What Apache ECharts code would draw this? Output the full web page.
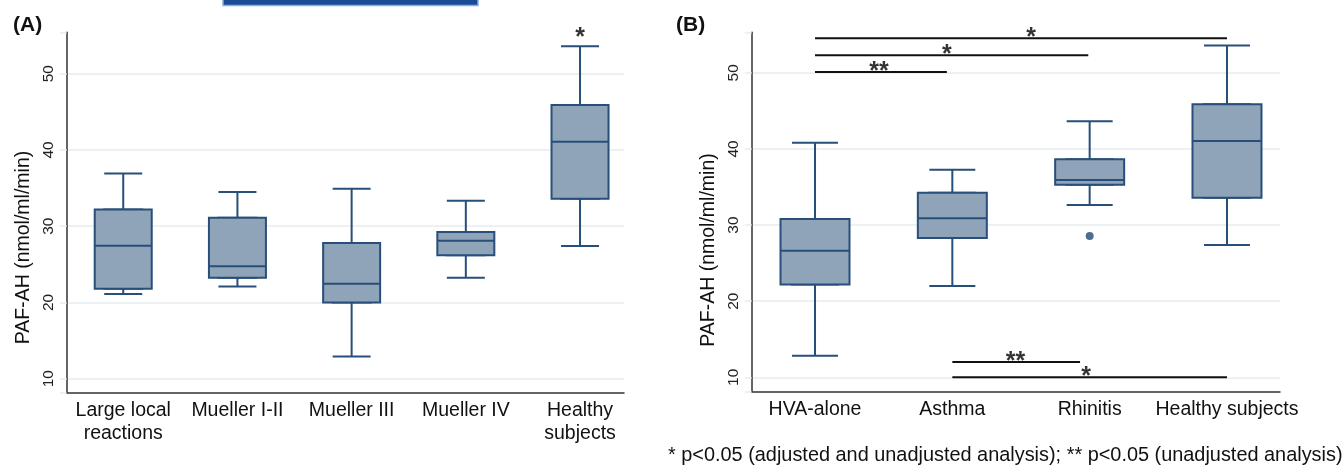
<!DOCTYPE html>
<html>
<head>
<meta charset="utf-8">
<script src="https://cdn.jsdelivr.net/npm/echarts@6/dist/echarts.min.js"></script>
<style>html,body{margin:0;padding:0;background:#fff}#c{width:1343px;height:466px}</style>
</head>
<body>
<div id="c"></div>
<script>
// ---------- Data ----------
const catsA = ['Large local\nreactions', 'Mueller I-II', 'Mueller III', 'Mueller IV', 'Healthy\nsubjects'];
const minA = [21.1, 22.1, 12.9, 23.25, 27.4];
const q1A  = [21.8, 23.25, 20.0, 26.2, 33.6];
const medA = [27.45, 24.75, 22.45, 28.1, 41.08];
const q3A  = [32.2, 31.1, 27.8, 29.24, 45.9];
const maxA = [36.9, 34.5, 34.9, 33.35, 53.6];
const starsA = [[4, 54.72, '*']];

const catsB = ['HVA-alone', 'Asthma', 'Rhinitis', 'Healthy subjects'];
const minB = [12.84, 22.0, 32.64, 27.39];
const q1B  = [22.2, 28.3, 35.3, 33.6];
const medB = [26.64, 30.9, 35.93, 41.05];
const q3B  = [30.8, 34.26, 38.65, 45.87];
const maxB = [40.83, 37.28, 43.64, 53.58];
const outliersB = [[2, 28.57]];
// brackets: [from category, to category, y value, label]
const bracketsB = [
  [0, 0.96, 50.12, '**'],
  [0, 1.99, 52.3, '*'],
  [0, 3.0, 54.55, '*'],
  [1, 1.93, 12.0, '**'],
  [1, 3.0, 10.0, '*']
];
const bracketLabelX = [0.466, 0.961, 1.573, 1.46, 1.974];

const yTicks = [10, 20, 30, 40, 50];
const yTitle = 'PAF-AH (nmol/ml/min)';
const footnote = '* p<0.05 (adjusted and unadjusted analysis); ** p<0.05 (unadjusted analysis)';

// ---------- Styles ----------
const FONT = '"Liberation Sans", Arial, sans-serif';
const LINE = '#284f7a';
const FILL = '#8fa3b9';
const GRID = '#e6edef';
const AX = '#333333';
const TXT = '#111111';

function isInt(v) { return Math.abs(v - Math.round(v)) < 1e-6; }

function yAxisCfg(gridIndex, min, max, shift, show) {
  return {
    type: 'value', gridIndex, min, max, minInterval: 10, maxInterval: 10,
    show,
    name: show ? yTitle : '', nameLocation: 'middle', nameGap: 33, nameRotate: 90,
    nameTextStyle: { fontSize: 19.5, color: TXT, fontFamily: FONT, padding: [0, shift * 2, 0, 0] },
    axisLine: { show: true, onZero: false, lineStyle: { color: AX, width: 1.5 } },
    axisTick: { show: true, length: 7, lineStyle: { color: GRID, width: 1.5 } },
    axisLabel: {
      rotate: 90, margin: 10, fontSize: 15.5, color: '#222', fontFamily: FONT,
      formatter: v => (yTicks.some(t => Math.abs(t - v) < 1e-6) ? String(Math.round(v)) : '')
    },
    splitLine: { show: true, showMinLine: false, showMaxLine: false, lineStyle: { color: GRID, width: 1.5 } }
  };
}

function xAxisCfg(gridIndex, min, max, cats, show) {
  return {
    type: 'value', gridIndex, min, max, minInterval: 1, maxInterval: 1,
    show,
    axisLine: { show: show, onZero: false, lineStyle: { color: AX, width: 1.5 } },
    axisTick: { show: false },
    splitLine: { show: false },
    axisLabel: {
      show: show, margin: 6, fontSize: 19.5, lineHeight: 23, color: TXT, fontFamily: FONT,
      formatter: v => (isInt(v) && cats[Math.round(v)] !== undefined ? cats[Math.round(v)] : '')
    }
  };
}

function boxSeries(xi, yi, mins, q1, med, q3, maxs, boxW, capW) {
  const whisk = mins.map((m, i) => [i, m, q1[i], med[i], q3[i], maxs[i]]);
  const boxes = mins.map((m, i) => [i, q1[i], q1[i], med[i], q3[i], q3[i]]);
  const style = { color: FILL, borderColor: LINE, borderWidth: 2 };
  return [
    { type: 'boxplot', xAxisIndex: xi + 1, yAxisIndex: yi, data: whisk, boxWidth: [capW, capW],
      itemStyle: style, silent: true },
    { type: 'boxplot', xAxisIndex: xi, yAxisIndex: yi, data: boxes, boxWidth: [boxW, boxW],
      itemStyle: style, silent: true }
  ];
}

function starSeries(xi, yi, pts) {
  return {
    type: 'scatter', xAxisIndex: xi, yAxisIndex: yi, symbolSize: 0, silent: true, z: 5,
    data: pts.map(p => ({ value: [p[0], p[1]], label: { formatter: p[2] } })),
    label: { show: true, position: 'inside', fontSize: 25, fontWeight: 'bold', color: '#000', fontFamily: FONT }
  };
}

const series = [];
series.push(...boxSeries(0, 0, minA, q1A, medA, q3A, maxA, 57, 38));
series.push(starSeries(0, 0, starsA));
series.push(...boxSeries(2, 1, minB, q1B, medB, q3B, maxB, 69, 46));
series.push({
  type: 'scatter', xAxisIndex: 2, yAxisIndex: 1, data: outliersB, symbolSize: 8,
  itemStyle: { color: '#1f4a78' }, silent: true
});
bracketsB.forEach(b => {
  series.push({
    type: 'line', xAxisIndex: 2, yAxisIndex: 1, data: [[b[0], b[2]], [b[1], b[2]]],
    symbol: 'none', silent: true, lineStyle: { color: '#111', width: 2 }, z: 4
  });
});
series.push(starSeries(2, 1, bracketsB.map((b, i) => [bracketLabelX[i], b[2], b[3]])));

const option = {
  animation: false,
  backgroundColor: '#fff',
  textStyle: { fontFamily: FONT },
  grid: [
    { left: 66.7, right: 719, top: 32.3, bottom: 73.3 },
    { left: 751.7, right: 63, top: 32.3, bottom: 74.3 }
  ],
  xAxis: [
    xAxisCfg(0, -0.495, 4.385, catsA, true),
    xAxisCfg(0, -0.495, 4.385, catsA, false),
    xAxisCfg(1, -0.461, 3.386, catsB, true),
    xAxisCfg(1, -0.461, 3.386, catsB, false)
  ],
  yAxis: [
    yAxisCfg(0, 8.16, 55.43, 35, true),
    yAxisCfg(1, 8.11, 55.33, 38, true)
  ],
  series,
  graphic: [
    { type: 'rect', shape: { x: 223, y: -6, width: 255, height: 11.5 },
      style: { fill: '#1b4b98', stroke: '#86aee0', lineWidth: 1.5 }, silent: true },
    { type: 'text', x: 13, y: 25,
      style: { text: '(A)', fontSize: 21, fontWeight: 'bold', fontFamily: FONT, fill: TXT, verticalAlign: 'middle' } },
    { type: 'text', x: 676, y: 25,
      style: { text: '(B)', fontSize: 21, fontWeight: 'bold', fontFamily: FONT, fill: TXT, verticalAlign: 'middle' } },
    { type: 'text', x: 668, y: 456,
      style: { text: footnote, fontSize: 19.9, fontFamily: FONT, fill: TXT, verticalAlign: 'middle' } }
  ]
};

const chart = echarts.init(document.getElementById('c'), null, { renderer: 'canvas' });
chart.setOption(option);
</script>
</body>
</html>
